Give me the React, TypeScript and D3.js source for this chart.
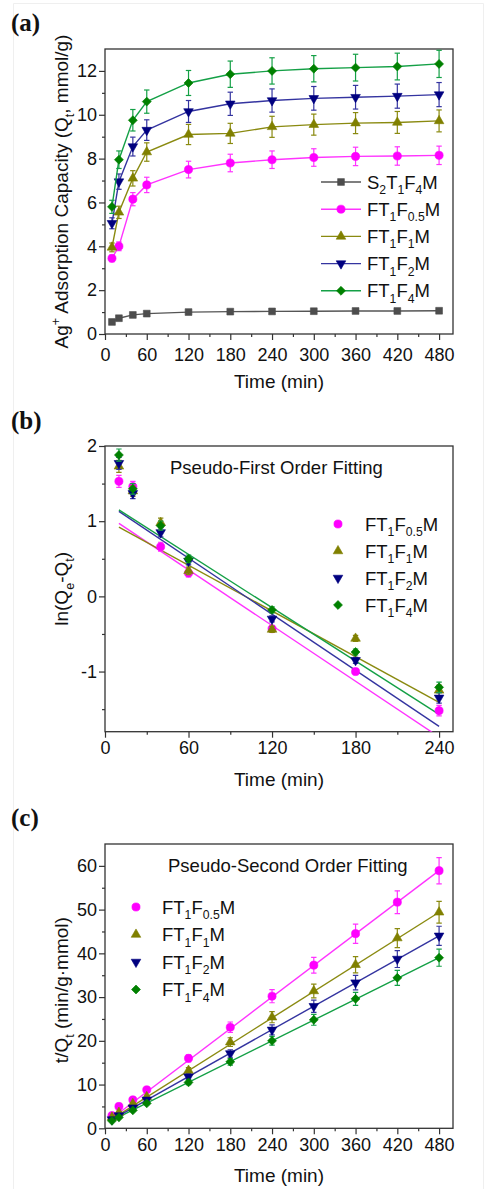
import React, { useEffect, useRef } from 'react';
import * as d3 from 'd3';

// ---- data ----
const timesA = [10, 20, 40, 60, 120, 180, 240, 300, 360, 420, 480];
const timesB = [10, 20, 40, 60, 120, 180, 240];

// (a) adsorption capacity Qt (mmol/g)
const qS2T1F4M = [0.55, 0.72, 0.87, 0.93, 1.0, 1.02, 1.03, 1.04, 1.05, 1.05, 1.06];
const qF05 = [3.45, 4.0, 6.15, 6.8, 7.5, 7.8, 7.95, 8.05, 8.1, 8.12, 8.15];
const qF1 = [3.95, 5.55, 7.1, 8.3, 9.1, 9.15, 9.45, 9.55, 9.62, 9.65, 9.72];
const qF2 = [5.05, 6.95, 8.55, 9.3, 10.15, 10.5, 10.65, 10.75, 10.8, 10.85, 10.92];
const qF4 = [5.8, 7.95, 9.75, 10.6, 11.45, 11.85, 12.0, 12.1, 12.15, 12.2, 12.32];
const eS2T1F4M = [0.03, 0.03, 0.03, 0.03, 0.03, 0.03, 0.03, 0.03, 0.03, 0.03, 0.03];
const eF05 = [0.15, 0.2, 0.3, 0.35, 0.38, 0.4, 0.4, 0.4, 0.42, 0.42, 0.42];
const eF1 = [0.2, 0.28, 0.35, 0.42, 0.46, 0.46, 0.48, 0.48, 0.48, 0.5, 0.5];
const eF2 = [0.25, 0.35, 0.43, 0.47, 0.5, 0.53, 0.53, 0.54, 0.54, 0.55, 0.55];
const eF4 = [0.3, 0.4, 0.49, 0.53, 0.57, 0.6, 0.6, 0.6, 0.61, 0.61, 0.62];

// (b) ln(Qe-Qt)
const lnF05 = [1.53, 1.46, 0.66, 0.31, -0.43, -1.0, -1.52];
const lnF1 = [1.73, 1.4, 0.98, 0.34, -0.44, -0.56, -1.25];
const lnF2 = [1.77, 1.37, 0.85, 0.47, -0.3, -0.85, -1.35];
const lnF4 = [1.88, 1.43, 0.94, 0.5, -0.18, -0.74, -1.21];
const lnErr = [0.08, 0.07, 0.06, 0.05, 0.04, 0.04, 0.07];
// fitted lines, value at t = 10 and t = 240
const fitBStart = [0.97, 0.92, 1.13, 1.15];
const fitBEnd = [-1.87, -1.41, -1.73, -1.57];

// (c) t/Qt
const tqF05 = [2.9, 5.0, 6.5, 8.8, 16.0, 23.1, 30.2, 37.3, 44.5, 51.7, 58.9];
const tqF1 = [2.5, 3.6, 5.6, 7.2, 13.2, 19.7, 25.4, 31.4, 37.4, 43.5, 49.4];
const tqF2 = [2.0, 2.9, 4.7, 6.5, 11.8, 17.1, 22.5, 27.9, 33.3, 38.7, 44.0];
const tqF4 = [1.7, 2.5, 4.1, 5.7, 10.5, 15.2, 20.0, 24.8, 29.6, 34.4, 39.0];
const tqErrF05 = [0.15, 0.25, 0.33, 0.45, 0.8, 1.2, 1.5, 1.8, 2.2, 2.6, 3.0];
const tqErrF1 = [0.13, 0.18, 0.28, 0.36, 0.66, 1.0, 1.27, 1.57, 1.87, 2.17, 2.47];
const tqErrF2 = [0.1, 0.15, 0.24, 0.33, 0.6, 0.86, 1.13, 1.4, 1.67, 1.94, 2.2];
const tqErrF4 = [0.09, 0.13, 0.2, 0.29, 0.53, 0.76, 1.0, 1.24, 1.48, 1.72, 1.95];
// fitted lines, value at t = 10 and t = 480
const fitCStart = [2.3, 2.1, 2.0, 1.8];
const fitCEnd = [58.9, 49.4, 44.0, 39.0];

// series labels, as [text, 'sub' | 'sup' | ''] parts
const labelS2 = [['S', ''], ['2', 'sub'], ['T', ''], ['1', 'sub'], ['F', ''], ['4', 'sub'], ['M', '']];
const labelF05 = [['FT', ''], ['1', 'sub'], ['F', ''], ['0.5', 'sub'], ['M', '']];
const labelF1 = [['FT', ''], ['1', 'sub'], ['F', ''], ['1', 'sub'], ['M', '']];
const labelF2 = [['FT', ''], ['1', 'sub'], ['F', ''], ['2', 'sub'], ['M', '']];
const labelF4 = [['FT', ''], ['1', 'sub'], ['F', ''], ['4', 'sub'], ['M', '']];

const FONT = '"Liberation Sans", Arial, Helvetica, sans-serif';

const styles = {
	S2: { marker: '#4d4d4d', line: '#555555', shape: 'square', label: labelS2 },
	F05: { marker: '#ff00ff', line: '#ff33ff', shape: 'circle', label: labelF05 },
	F1: { marker: '#808000', line: '#8a8a10', shape: 'triUp', label: labelF1 },
	F2: { marker: '#000080', line: '#3434a0', shape: 'triDown', label: labelF2 },
	F4: { marker: '#008000', line: '#14a046', shape: 'diamond', label: labelF4 },
};

function symbolPath(shape) {
	if (shape === 'square') return d3.symbol(d3.symbolSquare, 46)();
	if (shape === 'circle') return d3.symbol(d3.symbolCircle, 52)();
	if (shape === 'diamond') return d3.symbol(d3.symbolSquare, 40)();
	return d3.symbol(d3.symbolTriangle, 40)();
}
function symbolRotation(shape) {
	if (shape === 'triDown') return 180;
	if (shape === 'diamond') return 45;
	return 0;
}

function richText(sel, parts, size) {
	let shift = 0;
	parts.forEach(([txt, kind]) => {
		const target = kind === 'sub' ? size * 0.3 : kind === 'sup' ? -size * 0.42 : 0;
		sel.append('tspan')
			.attr('dy', target - shift)
			.attr('font-size', kind ? size * 0.66 : size)
			.text(txt);
		shift = target;
	});
}

function drawMarker(g, shape, color, x, y) {
	g.append('path')
		.attr('d', symbolPath(shape))
		.attr('transform', `translate(${x},${y}) rotate(${symbolRotation(shape)})`)
		.attr('fill', color)
		.attr('stroke', color)
		.attr('stroke-width', 0.6);
}

function drawPanel(svg, p) {
	const x = d3.scaleLinear().domain(p.xDomain).range([p.left, p.right]);
	const y = d3.scaleLinear().domain(p.yDomain).range([p.bottom, p.top]);
	const g = svg.append('g');

	const clipId = `clip-${p.id}`;
	g.append('clipPath').attr('id', clipId)
		.append('rect')
		.attr('x', p.left).attr('y', p.top)
		.attr('width', p.right - p.left).attr('height', p.bottom - p.top);

	// axes
	const styleAxis = (a, size) => {
		a.select('.domain').remove();
		a.selectAll('line').attr('stroke', '#333').attr('stroke-width', 1.2);
		a.attr('font-family', FONT).attr('font-size', size).selectAll('text').attr('fill', '#111');
	};
	const xMajor = d3.range(p.xTicks[0], p.xTicks[1] + 1, p.xTicks[2]);
	const xMinor = d3.range(p.xTicks[0] + p.xTicks[2] / 2, p.xDomain[1], p.xTicks[2]);
	const yMajor = p.yMajor;
	const yMinor = p.yMinor;

	g.append('g').attr('transform', `translate(0,${p.bottom})`)
		.call(d3.axisBottom(x).tickValues(xMinor).tickSize(3).tickFormat(() => ''))
		.call(a => styleAxis(a, 18));
	g.append('g').attr('transform', `translate(0,${p.bottom})`)
		.call(d3.axisBottom(x).tickValues(xMajor).tickSize(6).tickPadding(p.xPad).tickFormat(d => String(d)))
		.call(a => styleAxis(a, 18));
	g.append('g').attr('transform', `translate(${p.left},0)`)
		.call(d3.axisLeft(y).tickValues(yMinor).tickSize(3).tickFormat(() => ''))
		.call(a => styleAxis(a, 18));
	g.append('g').attr('transform', `translate(${p.left},0)`)
		.call(d3.axisLeft(y).tickValues(yMajor).tickSize(6).tickPadding(2).tickFormat(d => String(d)))
		.call(a => styleAxis(a, 18));

	// frame
	g.append('rect')
		.attr('x', p.left).attr('y', p.top)
		.attr('width', p.right - p.left).attr('height', p.bottom - p.top)
		.attr('fill', 'none').attr('stroke', '#333').attr('stroke-width', 1.3);

	// axis titles
	g.append('text')
		.attr('x', (p.left + p.right) / 2)
		.attr('y', p.bottom + 54)
		.attr('text-anchor', 'middle')
		.attr('font-family', FONT).attr('font-size', 19).attr('fill', '#111')
		.text('Time (min)');
	const yl = g.append('text')
		.attr('transform', `translate(68,${(p.top + p.bottom) / 2 + p.yLabelShift}) rotate(-90)`)
		.attr('text-anchor', 'middle')
		.attr('font-family', FONT).attr('font-size', 19).attr('fill', '#111');
	richText(yl, p.yLabel, 19);

	// panel letter
	g.append('text')
		.attr('x', 11).attr('y', p.top - p.letterOffset)
		.attr('font-family', '"Liberation Serif", "Times New Roman", serif')
		.attr('font-weight', 'bold').attr('font-size', 25).attr('fill', '#111')
		.text(p.letter);

	const plot = g.append('g').attr('clip-path', `url(#${clipId})`);

	// fit lines
	(p.fits || []).forEach(f => {
		plot.append('line')
			.attr('x1', x(f.t0)).attr('y1', y(f.v0))
			.attr('x2', x(f.t1)).attr('y2', y(f.v1))
			.attr('stroke', styles[f.key].line).attr('stroke-width', 1.4);
	});

	p.series.forEach(s => {
		const st = styles[s.key];
		const pts = s.times.map((t, i) => ({ t, v: s.values[i], e: s.errors[i] }));
		if (p.connect) {
			plot.append('path')
				.attr('d', d3.line().x(d => x(d.t)).y(d => y(d.v))(pts))
				.attr('fill', 'none').attr('stroke', st.line).attr('stroke-width', 1.4);
		}
		pts.forEach(d => {
			const cx = x(d.t);
			const y1 = y(d.v + d.e);
			const y2 = y(d.v - d.e);
			plot.append('line').attr('x1', cx).attr('x2', cx).attr('y1', y1).attr('y2', y2)
				.attr('stroke', st.line).attr('stroke-width', 1.2);
			[y1, y2].forEach(yy => {
				plot.append('line').attr('x1', cx - 2.7).attr('x2', cx + 2.7).attr('y1', yy).attr('y2', yy)
					.attr('stroke', st.line).attr('stroke-width', 1.2);
			});
		});
		pts.forEach(d => drawMarker(plot, st.shape, st.marker, x(d.t), y(d.v)));
	});

	// in-plot title
	if (p.title) {
		g.append('text')
			.attr('x', p.title.x).attr('y', p.title.y)
			.attr('font-family', FONT).attr('font-size', 18.5).attr('fill', '#111')
			.text(p.title.text);
	}

	// legend
	const lg = p.legend;
	lg.keys.forEach((key, i) => {
		const st = styles[key];
		const yy = lg.y0 + i * lg.step;
		if (lg.line) {
			g.append('line')
				.attr('x1', lg.markerX - 20).attr('x2', lg.markerX + 20)
				.attr('y1', yy).attr('y2', yy)
				.attr('stroke', st.line).attr('stroke-width', 1.4);
		}
		drawMarker(g, st.shape, st.marker, lg.markerX, yy);
		const t = g.append('text')
			.attr('x', lg.textX).attr('y', yy + 6.5)
			.attr('font-family', FONT).attr('font-size', 18.5).attr('fill', '#111');
		richText(t, st.label, 18.5);
	});
}

const panelA = {
	id: 'a', letter: '(a)', letterOffset: 18,
	left: 105, right: 453, top: 49, bottom: 334,
	xDomain: [0, 500], yDomain: [0, 13],
	xTicks: [0, 480, 60], xPad: 8,
	yMajor: [0, 2, 4, 6, 8, 10, 12], yMinor: [1, 3, 5, 7, 9, 11],
	yLabel: [['Ag', ''], ['+', 'sup'], [' Adsorption Capacity (Q', ''], ['t', 'sub'], [', mmol/g)', '']],
	yLabelShift: 0,
	connect: true,
	series: [
		{ key: 'S2', times: timesA, values: qS2T1F4M, errors: eS2T1F4M },
		{ key: 'F05', times: timesA, values: qF05, errors: eF05 },
		{ key: 'F1', times: timesA, values: qF1, errors: eF1 },
		{ key: 'F2', times: timesA, values: qF2, errors: eF2 },
		{ key: 'F4', times: timesA, values: qF4, errors: eF4 },
	],
	legend: { keys: ['S2', 'F05', 'F1', 'F2', 'F4'], markerX: 341, textX: 367, y0: 182, step: 27.2, line: true },
};

const fitKeys = ['F05', 'F1', 'F2', 'F4'];

const panelB = {
	id: 'b', letter: '(b)', letterOffset: 17,
	left: 105, right: 453, top: 446, bottom: 731.7,
	xDomain: [0, 250], yDomain: [-1.8, 2],
	xTicks: [0, 240, 60], xPad: 4,
	yMajor: [-1, 0, 1, 2], yMinor: [-1.5, -0.5, 0.5, 1.5],
	yLabel: [['ln(Q', ''], ['e', 'sub'], ['-Q', ''], ['t', 'sub'], [')', '']],
	yLabelShift: 0,
	connect: false,
	fits: fitKeys.map((key, i) => ({ key, t0: 10, v0: fitBStart[i], t1: 240, v1: fitBEnd[i] })),
	series: [
		{ key: 'F05', times: timesB, values: lnF05, errors: lnErr },
		{ key: 'F1', times: timesB, values: lnF1, errors: lnErr },
		{ key: 'F2', times: timesB, values: lnF2, errors: lnErr },
		{ key: 'F4', times: timesB, values: lnF4, errors: lnErr },
	],
	title: { text: 'Pseudo-First Order Fitting', x: 170, y: 474 },
	legend: { keys: fitKeys, markerX: 338, textX: 365, y0: 524, step: 27, line: false },
};

const panelC = {
	id: 'c', letter: '(c)', letterOffset: 18,
	left: 105, right: 453, top: 844, bottom: 1128.3,
	xDomain: [0, 500], yDomain: [0, 65],
	xTicks: [0, 480, 60], xPad: 4,
	yMajor: [0, 10, 20, 30, 40, 50, 60], yMinor: [5, 15, 25, 35, 45, 55],
	yLabel: [['t/Q', ''], ['t', 'sub'], [' (min/g·mmol)', '']],
	yLabelShift: 4,
	connect: false,
	fits: fitKeys.map((key, i) => ({ key, t0: 10, v0: fitCStart[i], t1: 480, v1: fitCEnd[i] })),
	series: [
		{ key: 'F05', times: timesA, values: tqF05, errors: tqErrF05 },
		{ key: 'F1', times: timesA, values: tqF1, errors: tqErrF1 },
		{ key: 'F2', times: timesA, values: tqF2, errors: tqErrF2 },
		{ key: 'F4', times: timesA, values: tqF4, errors: tqErrF4 },
	],
	title: { text: 'Pseudo-Second Order Fitting', x: 168, y: 872 },
	legend: { keys: fitKeys, markerX: 136, textX: 162, y0: 907, step: 27.5, line: false },
};

export default function App() {
	const ref = useRef(null);
	useEffect(() => {
		const svg = d3.select(ref.current);
		svg.selectAll('*').remove();
		// faint outer border of the figure
		svg.append('path')
			.attr('d', 'M13.5,1189 V3.5 H483.5 V1189')
			.attr('fill', 'none').attr('stroke', '#efefef').attr('stroke-width', 1);
		[panelA, panelB, panelC].forEach(p => drawPanel(svg, p));
	}, []);
	return (
		<svg
			ref={ref}
			width={486}
			height={1189}
			style={{ position: 'absolute', left: 0, top: 0, background: '#fff' }}
		/>
	);
}
